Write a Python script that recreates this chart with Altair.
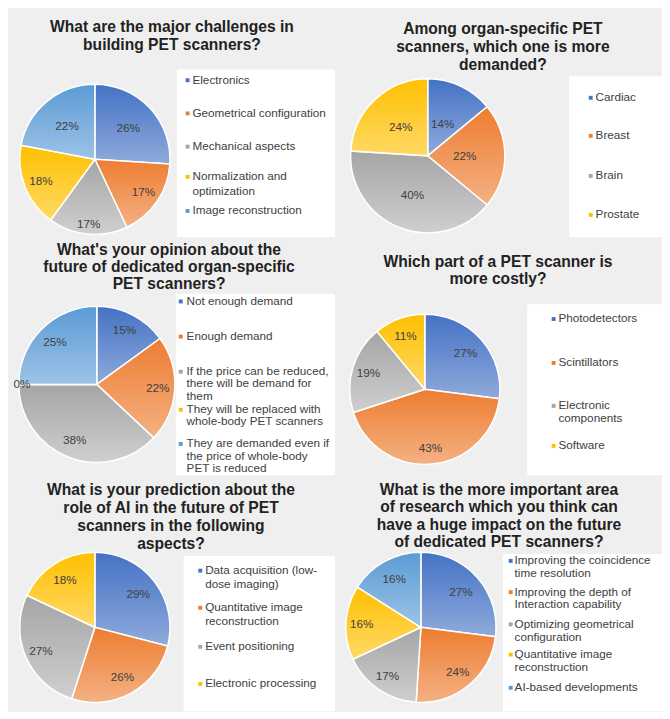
import altair as alt
import pandas as pd

# ---------------- data ----------------
title1 = ["What are the major challenges in", "building PET scanners?"]
cats1 = ["Electronics", "Geometrical configuration", "Mechanical aspects",
         "Normalization and\noptimization", "Image reconstruction"]
vals1 = [26, 17, 17, 18, 22]

title2 = ["Among organ-specific PET", "scanners, which one is more", "demanded?"]
cats2 = ["Cardiac", "Breast", "Brain", "Prostate"]
vals2 = [14, 22, 40, 24]

title3 = ["What's your opinion about the", "future of dedicated organ-specific", "PET scanners?"]
cats3 = ["Not enough demand", "Enough demand",
         "If the price can be reduced,\nthere will be demand for\nthem",
         "They will be replaced with\nwhole-body PET scanners",
         "They are demanded even if\nthe price of whole-body\nPET is reduced"]
vals3 = [15, 22, 38, 0, 25]

title4 = ["Which part of a PET scanner is", "more costly?"]
cats4 = ["Photodetectors", "Scintillators", "Electronic\ncomponents", "Software"]
vals4 = [27, 43, 19, 11]

title5 = ["What is your prediction about the", "role of AI in the future of PET",
          "scanners in the following", "aspects?"]
cats5 = ["Data acquisition (low-\ndose imaging)", "Quantitative image\nreconstruction",
         "Event positioning", "Electronic processing"]
vals5 = [29, 26, 27, 18]

title6 = ["What is the more important area", "of research which you think can",
          "have a huge impact on the future", "of dedicated PET scanners?"]
cats6 = ["Improving the coincidence\ntime resolution", "Improving the depth of\nInteraction capability",
         "Optimizing geometrical\nconfiguration", "Quantitative image\nreconstruction",
         "AI-based developments"]
vals6 = [27, 24, 17, 16, 16]

# ---------------- styles / layout ----------------
COLORS_TOP = ["#4472C4", "#ED7D31", "#A5A5A5", "#FFC000", "#5B9BD5"]
COLORS_BOT = ["#8FAADC", "#F4B183", "#CFCFCF", "#FFD966", "#9DC3E6"]
S = 0.976
BG = "#efefef"
FONT = "Liberation Sans"
TXT = "#404040"

layouts = [
    dict(W=335, H=235, tcx=168, ty=20, tlh=18, cx=89, cy=155, R=77, box=(173, 63, 335, 235),
         sqx=184, txx=189, iy=[74, 108, 142, 173, 208], llh=15, lr=[0.61, 0.78, 0.87, 0.77, 0.58]),
    dict(W=335, H=235, tcx=172, ty=22, tlh=18.5, cx=95, cy=151.5, R=79, box=(240, 70, 335, 235),
         sqx=262, txx=267, iy=[92, 131, 172, 212], llh=14, lr=[0.46, 0.48, 0.54, 0.51]),
    dict(W=335, H=243, tcx=165, ty=13, tlh=17.5, cx=91, cy=150, R=80, box=(172, 57, 335, 243),
         sqx=177, txx=183, iy=[65, 101, 137, 176, 211], llh=12.6, lr=[0.78, 0.78, 0.77, 0.96, 0.76]),
    dict(W=335, H=243, tcx=167, ty=25, tlh=18, cx=92, cy=155, R=77, box=(197, 68, 335, 243),
         sqx=224, txx=229, iy=[83, 128, 172, 213], llh=12.7, lr=[0.72, 0.79, 0.78, 0.76]),
    dict(W=335, H=241, tcx=167, ty=15, tlh=18.3, cx=89, cy=155, R=77, box=(180, 82, 335, 241),
         sqx=197, txx=202, iy=[97, 135, 175, 213], llh=14, lr=[0.73, 0.76, 0.78, 0.74]),
    dict(W=335, H=241, tcx=168, ty=15, tlh=17.7, cx=88, cy=155, R=77, box=(172, 80, 335, 241),
         sqx=180, txx=184, iy=[87, 119, 152, 183, 217], llh=13.2, lr=[0.71, 0.77, 0.79, 0.79, 0.74]),
]


def grad(i):
    return {"gradient": "linear", "x1": 0, "y1": 0, "x2": 0, "y2": 1,
            "stops": [{"offset": 0, "color": COLORS_TOP[i]},
                      {"offset": 1, "color": COLORS_BOT[i]}]}


def make_panel(title_lines, cats, vals, lay):
    df = pd.DataFrame({"idx": list(range(len(cats))), "cat": cats, "v": vals})
    df["end"] = df["v"].cumsum()
    df["start"] = df["end"] - df["v"]
    df["mid"] = (df["start"] + df["end"]) / 2
    df["label"] = [f"{v}%" for v in vals]

    W, H = lay["W"] * S, lay["H"] * S
    cx, cy, R = lay["cx"] * S, lay["cy"] * S, lay["R"] * S
    tscale = alt.Scale(domain=[0, 100])
    base = alt.Chart(df)
    one = alt.Data(values=[{"t": "\n".join(title_lines)}])

    layers = []
    bx1, by1, bx2, by2 = [b * S for b in lay["box"]]
    layers.append(alt.Chart(one).mark_rect(fill="white").encode(
        x=alt.value(bx1), x2=alt.value(bx2), y=alt.value(by1), y2=alt.value(by2)))

    fs_t = 16 * S
    layers.append(alt.Chart(one).mark_text(
        align="center", baseline="top", fontSize=fs_t, fontWeight="bold", font=FONT,
        color="#222222", lineBreak="\n", lineHeight=lay["tlh"] * S).encode(
        x=alt.value(lay["tcx"] * S), y=alt.value(lay["ty"] * S - 0.48 * fs_t), text="t:N"))

    fs = 12 * S
    for i in range(len(cats)):
        sub = base.transform_filter(alt.datum.idx == i)
        layers.append(sub.mark_arc(fill=grad(i), stroke="white", strokeWidth=1.5, radius=R).encode(
            theta=alt.Theta("start:Q", scale=tscale), theta2=alt.Theta2("end:Q"),
            x=alt.value(cx), y=alt.value(cy)))
    for i in range(len(cats)):
        sub = base.transform_filter(alt.datum.idx == i)
        layers.append(sub.mark_text(radius=lay["lr"][i] * R, fontSize=fs, font=FONT, color=TXT,
                                    baseline="middle").encode(
            theta=alt.Theta("mid:Q", scale=tscale), x=alt.value(cx), y=alt.value(cy),
            text="label:N"))
        layers.append(sub.mark_square(size=16 * S * S, color=COLORS_TOP[i], opacity=1).encode(
            x=alt.value(lay["sqx"] * S), y=alt.value(lay["iy"][i] * S)))
        layers.append(sub.mark_text(align="left", baseline="top", fontSize=fs, font=FONT,
                                    color=TXT, lineBreak="\n", lineHeight=lay["llh"] * S).encode(
            x=alt.value(lay["txx"] * S), y=alt.value(lay["iy"][i] * S - 0.48 * fs), text="cat:N"))

    return alt.layer(*layers).properties(width=W, height=H)


specs = [(title1, cats1, vals1), (title2, cats2, vals2), (title3, cats3, vals3),
         (title4, cats4, vals4), (title5, cats5, vals5), (title6, cats6, vals6)]
panels = [make_panel(t, c, v, lay) for (t, c, v), lay in zip(specs, layouts)]

rows = [alt.hconcat(panels[0], panels[1], spacing=0),
        alt.hconcat(panels[2], panels[3], spacing=0),
        alt.hconcat(panels[4], panels[5], spacing=0)]

chart = alt.vconcat(*rows, spacing=0).properties(
    padding=0, background=BG
).configure_view(fill=BG, stroke=None)

chart.save("out.html", embed_options={"renderer": "svg", "actions": False})
